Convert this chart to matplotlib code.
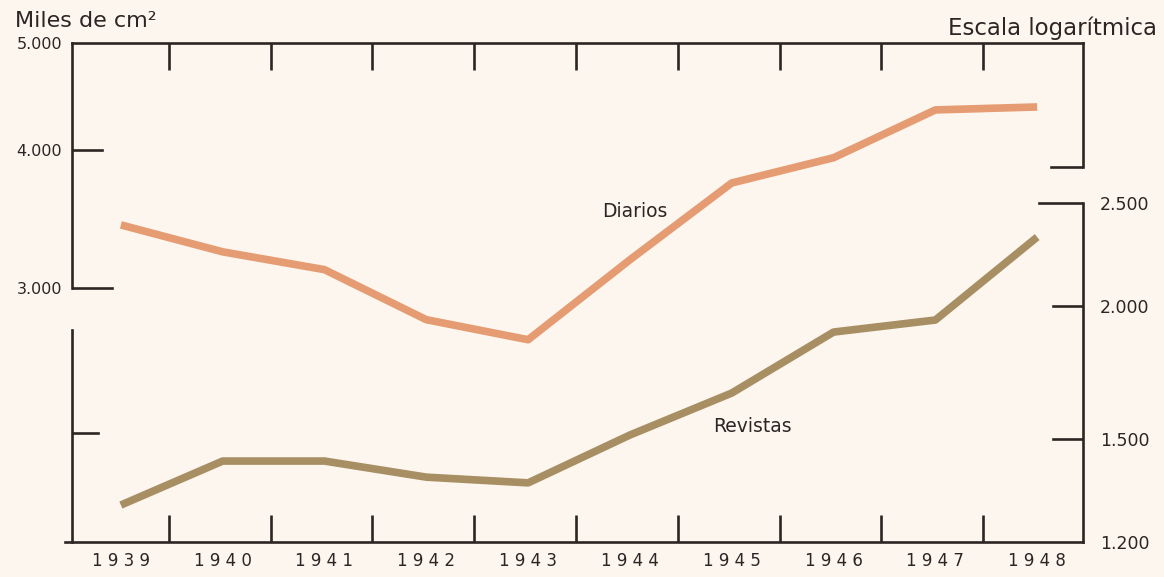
import numpy as np
import matplotlib
matplotlib.use("Agg")
import matplotlib.pyplot as plt

# data (thousands of cm2, log scale)
years = [1939, 1940, 1941, 1942, 1943, 1944, 1945, 1946, 1947, 1948]
diarios = [3420, 3233, 3115, 2806, 2691, 3180, 3733, 3935, 4348, 4375]
revistas = [1300, 1430, 1430, 1381, 1364, 1513, 1657, 1891, 1941, 2323]

left_ticks = [5000, 4000, 3000]
left_labels = ["5.000", "4.000", "3.000"]
right_ticks = [2500, 2000, 1500, 1200]
right_labels = ["2.500", "2.000", "1.500", "1.200"]
year_labels = ["1 9 3 9", "1 9 4 0", "1 9 4 1", "1 9 4 2", "1 9 4 3",
               "1 9 4 4", "1 9 4 5", "1 9 4 6", "1 9 4 7", "1 9 4 8"]

paper = "#fcf6ef"
ink = "#2b2623"
c_diarios = "#e69c72"
c_revistas = "#a88f63"

fig = plt.figure(figsize=(11.64, 5.77), dpi=100, facecolor=paper)
ax = fig.add_axes([72 / 1164, 1 - 542 / 577, 1011 / 1164, 499 / 577])
ax.set_facecolor("none")
ax2 = ax.twinx()

ax.set_yscale("log")
ax2.set_yscale("log")
ax.set_ylim(1764, 5000)
ax2.set_ylim(1200, 3537)
ax.set_xlim(1938.52, 1948.45)

ax.plot(years, diarios, color=c_diarios, lw=5.5, solid_capstyle="butt",
        solid_joinstyle="round")
ax2.plot(years, revistas, color=c_revistas, lw=5.5, solid_capstyle="butt",
         solid_joinstyle="round")

ax.text(1944.05, 3516, "Diarios", fontsize=13.5, color=ink, ha="center",
        va="center")
ax2.text(1945.2, 1540, "Revistas", fontsize=13.5, color=ink, ha="center",
         va="center")

# broken frame like the original drawing
lw = 1.9
for a in (ax, ax2):
    for s in a.spines.values():
        s.set_linewidth(lw)
        s.set_color(ink)
ax2.spines["top"].set_visible(False)
ax2.spines["bottom"].set_visible(False)
ax.spines["bottom"].set_bounds(1938.45, 1948.45)
ax.spines["left"].set_bounds(3000, 5000)
ax.spines["right"].set_bounds(3862, 5000)
ax2.spines["left"].set_bounds(1200, 1899)
ax2.spines["right"].set_bounds(1200, 2500)

# tick stubs and bracket ends
ax.axhline(4000, xmin=0, xmax=30 / 1011, color=ink, lw=lw)
ax.axhline(3000, xmin=0, xmax=40 / 1011, color=ink, lw=lw)
ax.axhline(3862, xmin=1 - 32 / 1011, xmax=1, color=ink, lw=lw)
ax2.axhline(1520, xmin=0, xmax=26 / 1011, color=ink, lw=lw)
ax2.axhline(2500, xmin=1 - 44 / 1011, xmax=1, color=ink, lw=lw)
ax2.axhline(2000, xmin=1 - 30 / 1011, xmax=1, color=ink, lw=lw)
ax2.axhline(1500, xmin=1 - 30 / 1011, xmax=1, color=ink, lw=lw)

ax.yaxis.set_minor_locator(matplotlib.ticker.NullLocator())
ax2.yaxis.set_minor_locator(matplotlib.ticker.NullLocator())
ax.set_yticks(left_ticks, left_labels)
ax2.set_yticks(right_ticks, right_labels)
ax.tick_params(axis="y", length=0, pad=7, labelsize=11.5, labelcolor=ink)
ax2.tick_params(axis="y", length=0, pad=12, labelsize=12.5, labelcolor=ink)

# year boundaries as ticks, year names between them
bounds = [y + 0.47 for y in years[:-1]]
ax.set_xticks(bounds, [""] * len(bounds))
ax.tick_params(axis="x", which="major", direction="in", length=19.5, width=lw,
               color=ink, top=True, bottom=True)
ax.set_xticks(years, year_labels, minor=True)
ax.tick_params(axis="x", which="minor", length=0, pad=7, labelsize=12,
               labelcolor=ink)

fig.text(15 / 1164, 1 - 21 / 577, "Miles de cm²", fontsize=16, color=ink,
         ha="left", va="center")
fig.text(1157 / 1164, 1 - 28 / 577, "Escala logarítmica", fontsize=16.5,
         color=ink, ha="right", va="center")

fig.savefig("out.png", dpi=100, facecolor=paper)
